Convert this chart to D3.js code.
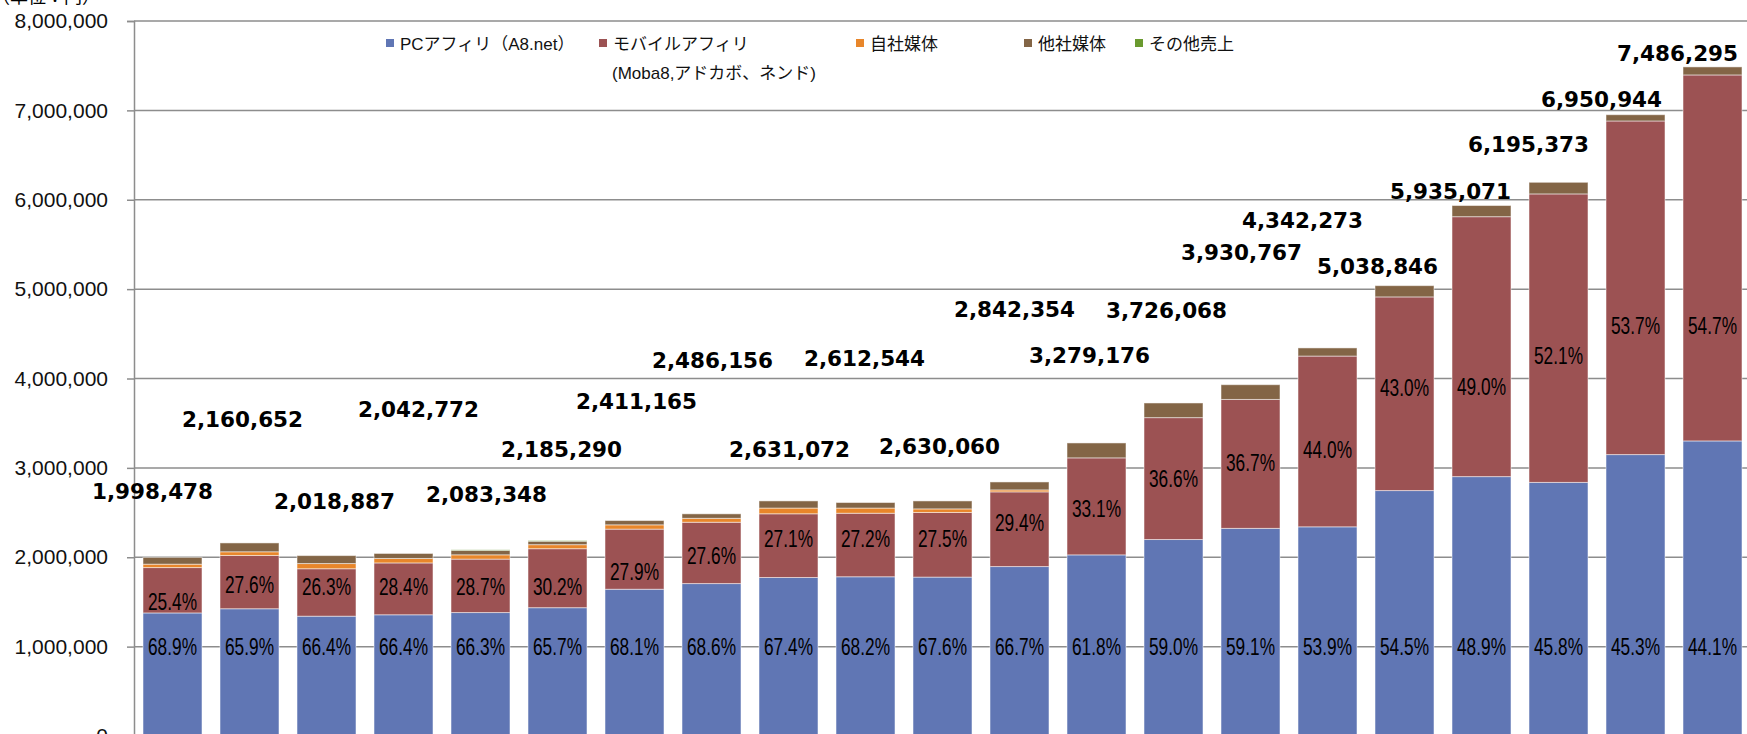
<!DOCTYPE html>
<html>
<head>
<meta charset="utf-8">
<script src="https://cdn.jsdelivr.net/npm/d3@7"></script>
<style>
  body { margin: 0; background: #fff; }
  svg { display: block; }
  .tick text { font-family: "Liberation Sans", Arial, sans-serif; font-size: 21px; fill: #111; }
  .legend text { font-family: "Liberation Sans", "Noto Sans CJK JP", sans-serif; font-size: 17px; fill: #111; }
  .total { font-family: "DejaVu Sans", Verdana, sans-serif; font-weight: bold; font-size: 21.5px; fill: #000; }
  .pct { font-family: "Liberation Sans", Arial, sans-serif; font-size: 24px; fill: #000; }
</style>
</head>
<body>
<div id="chart"></div>
<script>

const width = 1747, height = 734;
const margin = ({top: 21, right: -4, bottom: -2, left: 134});

// DATA (yen)
const periods = [1, 2, 3, 4, 5, 6, 7, 8, 9, 10, 11, 12, 13, 14, 15, 16, 17, 18, 19, 20, 21];
const totals = [1998478, 2160652, 2018887, 2042772, 2083348, 2185290, 2411165, 2486156, 2631072, 2612544, 2630060,
  2842354, 3279176, 3726068, 3930767, 4342273, 5038846, 5935071, 6195373, 6950944, 7486295];
const pcShare = [68.9, 65.9, 66.4, 66.4, 66.3, 65.7, 68.1, 68.6, 67.4, 68.2, 67.6,
  66.7, 61.8, 59.0, 59.1, 53.9, 54.5, 48.9, 45.8, 45.3, 44.1];
const mobileShare = [25.4, 27.6, 26.3, 28.4, 28.7, 30.2, 27.9, 27.6, 27.1, 27.2, 27.5,
  29.4, 33.1, 36.6, 36.7, 44.0, 43.0, 49.0, 52.1, 53.7, 54.7];
const ownMedia = [38000, 41000, 58000, 50000, 48000, 45000, 48000, 44000, 64000, 58000, 40000,
  22000, 0, 0, 0, 0, 0, 0, 0, 0, 0];
const otherMedia = [76000, 99000, 89000, 56000, 50000, 39000, 48000, 50000, 80000, 62000, 89000,
  89000, 167000, 164000, 165000, 91000, 126000, 125000, 130000, 70000, 90000];
const otherSales = [0, 0, 0, 0, 6000, 6000, 0, 0, 0, 0, 0,
  0, 0, 0, 0, 0, 0, 0, 0, 0, 0];

const yTicks = [0, 1000000, 2000000, 3000000, 4000000, 5000000, 6000000, 7000000, 8000000];

const seriesKeys = ["pc", "mobile", "own", "other", "misc"];
const seriesNames = ["PCアフィリ（A8.net）", "モバイルアフィリ", "自社媒体", "他社媒体", "その他売上"];
const seriesColors = ["#6076b4", "#9c5253", "#e8862a", "#836546", "#6a9a2f"];

// LABEL PLACEMENT (labels were hand-placed in the original)
const totalLabelDx = [-20, -7, 8, 15, 6, 4, 2, 1, 1, -1, -3, -5, -7, -7, -9, -25, -27, -31, -30, -34, -35];
const totalLabelAt = [2737000, 3539000, 2625000, 3651000, 2700000, 3204000, 3740000, 4199000, 3204000, 4221000, 3241000,
  4770000, 4255000, 4762000, 5407000, 5770000, 5254000, 6093000, 6615000, 7119000, 7641000];
const mobileLabelAt = [1503000, 1694000, 1671000, 1671000, 1671000, 1671000, 1839000, 2018000, 2208000, 2208000, 2208000,
  2387000, 2544000, 2880000, 3058000, 3203000, 3897000, 3908000, 4255000, 4591000, 4591000];
const pcLabelAt = 1000000;
const legendX = [386, 599, 856, 1024, 1135];

var rows = periods.map((p, i) => ({
  period: p,
  pc: totals[i] * pcShare[i] / 100,
  mobile: totals[i] * mobileShare[i] / 100,
  own: ownMedia[i],
  other: otherMedia[i],
  misc: otherSales[i]
}));

var svg = d3.select("#chart").append("svg")
  .attr("width", width)
  .attr("height", height);

var x = d3.scaleBand()
  .domain(periods)
  .range([margin.left, width - margin.right])
  .paddingInner(0.234)
  .paddingOuter(0.117);

var y = d3.scaleLinear()
  .domain([0, 8000000])
  .range([height - margin.bottom, margin.top]);

// UNIT LABEL (cut off at the top of the picture)
svg.append("text")
  .attr("x", 100).attr("y", 3)
  .attr("text-anchor", "end")
  .style("font-family", "'Noto Sans CJK JP', sans-serif")
  .style("font-size", "18px")
  .text("（単位：円）");

// GRID + AXIS
svg.append("g").selectAll("line")
  .data(yTicks.slice(1))
  .enter().append("line")
    .attr("x1", margin.left).attr("x2", width)
    .attr("y1", d => y(d)).attr("y2", d => y(d))
    .attr("stroke", "#8d8d8d")
    .attr("stroke-width", 1.5);

var yAxis = svg.append("g")
  .attr("transform", "translate(" + margin.left + ",0)")
  .call(d3.axisLeft(y).tickValues(yTicks).tickFormat(d3.format(",")).tickSize(7).tickPadding(19));

yAxis.select(".domain").attr("stroke", "#8d8d8d").attr("stroke-width", 1.5);
yAxis.selectAll(".tick line").attr("stroke", "#8d8d8d").attr("stroke-width", 1.5);

// BARS
var stacked = d3.stack().keys(seriesKeys)(rows);

svg.append("g").selectAll("g")
  .data(stacked)
  .enter().append("g")
    .attr("fill", (d, i) => seriesColors[i])
  .selectAll("rect")
  .data(d => d.filter(s => s[1] > s[0]))
  .enter().append("rect")
    .attr("x", d => x(d.data.period))
    .attr("width", x.bandwidth())
    .attr("y", d => y(d[1]))
    .attr("height", d => y(d[0]) - y(d[1]))
    .attr("stroke", "rgba(255,255,255,0.5)")
    .attr("stroke-width", 1);

// PERCENT LABELS
var pctFmt = d => d.toFixed(1) + "%";

svg.append("g").selectAll("text.pc")
  .data(rows)
  .enter().append("text")
    .attr("class", "pct")
    .attr("x", d => x(d.period) + x.bandwidth() / 2)
    .attr("y", y(pcLabelAt))
    .attr("text-anchor", "middle")
    .attr("dominant-baseline", "central")
    .attr("textLength", 49)
    .attr("lengthAdjust", "spacingAndGlyphs")
    .text((d, i) => pctFmt(pcShare[i]));

svg.append("g").selectAll("text.mob")
  .data(rows)
  .enter().append("text")
    .attr("class", "pct")
    .attr("x", d => x(d.period) + x.bandwidth() / 2)
    .attr("y", (d, i) => y(mobileLabelAt[i]))
    .attr("text-anchor", "middle")
    .attr("dominant-baseline", "central")
    .attr("textLength", 49)
    .attr("lengthAdjust", "spacingAndGlyphs")
    .text((d, i) => pctFmt(mobileShare[i]));

// TOTAL LABELS
svg.append("g").selectAll("text")
  .data(totals)
  .enter().append("text")
    .attr("class", "total")
    .attr("x", (d, i) => x(periods[i]) + x.bandwidth() / 2 + totalLabelDx[i])
    .attr("y", (d, i) => y(totalLabelAt[i]))
    .attr("text-anchor", "middle")
    .attr("dominant-baseline", "central")
    .text(d => d3.format(",")(d));

// LEGEND
var legend = svg.append("g").attr("class", "legend");

var item = legend.selectAll("g")
  .data(seriesNames)
  .enter().append("g")
    .attr("transform", (d, i) => "translate(" + legendX[i] + ",0)");

item.append("rect")
  .attr("y", 39)
  .attr("width", 8).attr("height", 8)
  .attr("fill", (d, i) => seriesColors[i]);

item.append("text")
  .attr("x", 14).attr("y", 50)
  .text(d => d);

legend.append("text")
  .attr("x", legendX[1] + 13).attr("y", 79)
  .text("(Moba8,アドカボ、ネンド)");

</script>
</body>
</html>
